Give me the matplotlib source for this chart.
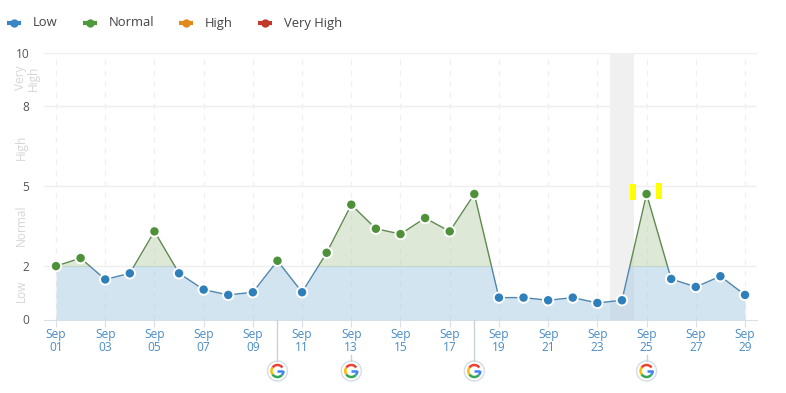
import matplotlib
matplotlib.use('Agg')
import matplotlib.pyplot as plt
from matplotlib.patches import Circle, Arc, Rectangle

plt.rcParams['font.family'] = ['Open Sans', 'DejaVu Sans']

days = list(range(1, 30))
values = [2.0, 2.3, 1.5, 1.73, 3.3, 1.73, 1.12, 0.92, 1.02, 2.2, 1.02, 2.5, 4.3, 3.4, 3.2,
          3.8, 3.3, 4.7, 0.82, 0.82, 0.72, 0.82, 0.62, 0.72, 4.7, 1.52, 1.22, 1.62, 0.92]
yticks = [0, 2, 5, 8, 10]
zones = [("Low", 1.08, -0.032), ("Normal", 3.54, -0.032), ("High", 6.46, -0.032), ("Very\nHigh", 9.04, -0.024)]
legend_names = ["Low", "Normal", "High", "Very High"]
legend_colors = ["#3a86c4", "#4f9a3c", "#e08a1e", "#c0392b"]
google_days = [10, 13, 18, 25]
band_days = (23.5, 24.5)
yellow_x = [24.45, 25.51]
yellow_low = [4.48, 4.52]
yellow_high = [5.08, 5.12]

BLUE = "#2f80ba"
GREEN = "#4e9138"
W, H = 786, 393

fig = plt.figure(figsize=(W / 100, H / 100), dpi=100)
ax = fig.add_axes([44 / W, 1 - 319.5 / H, 713 / W, 267 / H])
ax.set_xlim(1 - 12 / 24.6, 29 + 12 / 24.6)
ax.set_ylim(0, 10)

# gridlines
for y in yticks[1:]:
    ax.axhline(y, color="#eeeeee", lw=1, zorder=1)
for d in days[::2]:
    ax.axvline(d, color="#f0f0f0", lw=1, ls=(0, (4, 4)), zorder=1)
ax.axvspan(band_days[0], band_days[1], color="#f0f0f0", lw=0, zorder=1.5)

# area and line, split at the 2 boundary with clipping
low_clip = Rectangle((0, 0), 40, 2, transform=ax.transData)
high_clip = Rectangle((0, 2), 40, 8, transform=ax.transData)
low_fill = ax.fill_between(days, 0, values, color="#a9cbe4", alpha=0.5, lw=0, zorder=2)
low_fill.set_clip_path(low_clip)
high_fill = ax.fill_between(days, 0, values, color="#b5d0a6", alpha=0.45, lw=0, zorder=2)
high_fill.set_clip_path(high_clip)
low_line, = ax.plot(days, values, color="#4f86ad", lw=1, zorder=3)
low_line.set_clip_path(low_clip)
high_line, = ax.plot(days, values, color="#5f8a50", lw=1, zorder=3)
high_line.set_clip_path(high_clip)

point_colors = [GREEN if v >= 2 else BLUE for v in values]
ax.scatter(days, values, s=56, c=point_colors, edgecolors="white", linewidths=1.4, zorder=4, clip_on=False)

ax.bar(yellow_x, [h - l for h, l in zip(yellow_high, yellow_low)], bottom=yellow_low,
       width=0.24, color="#ffff00", zorder=5)

# axes
for s in ["top", "left", "right"]:
    ax.spines[s].set_visible(False)
ax.spines["bottom"].set_color("#d8dfe5")
ax.set_yticks(yticks)
ax.set_yticklabels([str(y) for y in yticks], fontsize=8.6, color="#555555")
ax.tick_params(axis="y", length=0, pad=10.5)
ax.set_xticks(days[::2])
ax.set_xticklabels(["Sep\n%02d" % d for d in days[::2]], fontsize=8.6, color="#4a8cc6", linespacing=1.0)
ax.tick_params(axis="x", length=5, color="#d8dfe5", pad=1)

for name, y, xpos in zones:
    ax.text(xpos, y, name, transform=ax.get_yaxis_transform(), rotation=90, ha="center", va="center",
            ma="center", fontsize=8.6, color="#d6d6d6", linespacing=0.95)

# overlay in pixels for legend and google icons
top = fig.add_axes([0, 0, 1, 1], facecolor="none")
top.set_xlim(0, W)
top.set_ylim(0, H)
top.axis("off")

legend_px = [14, 90, 186, 265]
for name, color, px in zip(legend_names, legend_colors, legend_px):
    top.plot([px - 7, px + 7], [H - 23, H - 23], color=color, lw=3, solid_capstyle="butt")
    top.plot([px], [H - 23], "o", color=color, ms=6, mew=0)
    top.text(px + 19, H - 23, name, fontsize=9.4, color="#444444", va="center", ha="left")


def google_icon(cx, cy):
    top.add_patch(Circle((cx, cy), 10, fc="white", ec="#d3dde3", lw=1))
    r = 6
    arc_size = 2 * r
    for t1, t2, c in [(35, 145, "#ea4335"), (145, 215, "#fbbc05"), (215, 320, "#34a853"), (320, 360, "#4285f4")]:
        top.add_patch(Arc((cx, cy), arc_size, arc_size, theta1=t1, theta2=t2, color=c, lw=1.8))
    top.plot([cx, cx + r], [cy, cy], color="#4285f4", lw=1.8, solid_capstyle="butt")


for d, long_line in zip(google_days, [True, False, True, False]):
    px = ax.transData.transform((d, 0))[0]
    y_from = H - 320 if long_line else H - 355
    top.plot([px, px], [y_from, H - 361], color="#c8d2d9", lw=1)
    google_icon(px, H - 371)

fig.savefig("out.png", dpi=100)
